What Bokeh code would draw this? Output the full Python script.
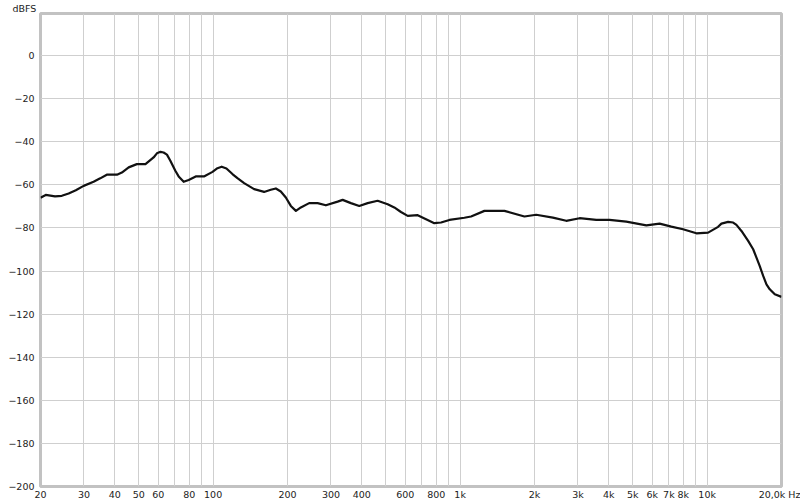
from bokeh.plotting import figure
from bokeh.models import FixedTicker, Range1d
from bokeh.embed import file_html
from bokeh.resources import INLINE

# Frequency response (Hz, dBFS)
freq_hz = [20, 21.0, 22.9, 24.4, 26.0, 27.8, 29.9, 32.8, 34.9, 37.1, 40.8, 42.7, 45.5, 49.1,
           53.2, 57.4, 59.2, 61.2, 63.0, 65.0, 67.1, 70.3, 72.5, 76.0, 79.6, 85.0, 91.8, 99.4,
           104.1, 108.3, 113.2, 119.7, 125.4, 133.5, 146.5, 160.8, 171.1, 179.4, 187.9, 196.9,
           206.3, 216.3, 226.5, 244.8, 264.8, 286.0, 319.1, 334.4, 361.3, 390.4, 422.2, 463.4,
           508.8, 541.2, 576.0, 613.3, 673.2, 727.6, 786.0, 836.8, 904.6, 1040, 1107, 1254,
           1511, 1821, 2031, 2374, 2688, 3044, 3557, 4026, 4705, 5674, 6422, 7161, 7988, 9044,
           10090, 11076, 11424, 12158, 12744, 13140, 13768, 14656, 15358, 15838, 16332, 16862,
           17384, 17929, 18786, 20000]
level_db = [-66.0, -64.7, -65.4, -65.1, -64.0, -62.5, -60.5, -58.6, -57.0, -55.3, -55.3, -54.3,
            -51.9, -50.4, -50.4, -47.3, -45.4, -44.7, -45.0, -46.0, -48.8, -53.5, -56.1, -58.6,
            -57.8, -56.1, -56.1, -54.0, -52.3, -51.6, -52.4, -55.0, -56.9, -59.2, -62.0, -63.3,
            -62.3, -61.7, -63.1, -65.9, -69.8, -72.1, -70.5, -68.5, -68.5, -69.5, -67.8, -67.0,
            -68.5, -69.8, -68.5, -67.4, -69.0, -70.5, -72.6, -74.4, -74.1, -76.0, -77.8, -77.5,
            -76.3, -75.3, -74.7, -72.1, -72.1, -74.7, -73.9, -75.2, -76.7, -75.5, -76.3, -76.3,
            -77.1, -78.8, -78.0, -79.4, -80.6, -82.5, -82.2, -79.5, -78.0, -77.2, -77.5, -78.6,
            -81.4, -86.0, -89.9, -93.8, -97.7, -102.3, -106.2, -108.5, -110.8, -112.0]

x_tick_values = [20, 30, 40, 50, 60, 80, 100, 200, 300, 400, 600, 800, 1000, 2000, 3000,
                 4000, 5000, 6000, 7000, 8000, 10000, 20000]
x_tick_labels = ["20", "30", "40", "50", "60", "80", "100", "200", "300", "400", "600", "800",
                 "1k", "2k", "3k", "4k", "5k", "6k", "7k", "8k", "10k", "20,0k Hz"]
x_grid_values = [20, 30, 40, 50, 60, 70, 80, 90, 100, 200, 300, 400, 500, 600, 700, 800, 900,
                 1000, 2000, 3000, 4000, 5000, 6000, 7000, 8000, 9000, 10000, 20000]
y_tick_values = [-200, -180, -160, -140, -120, -100, -80, -60, -40, -20, 0]
y_unit_label = "dBFS"

font = "DejaVu Sans"
label_size = "9.5px"
label_color = "#222222"

p = figure(width=800, height=502, x_axis_type="log", output_backend="svg",
           toolbar_location=None, x_range=Range1d(20, 20000), y_range=Range1d(-200, 19.5),
           min_border_left=40, min_border_right=19, min_border_top=0, min_border_bottom=16)

p.title.text = y_unit_label
p.title.align = "left"
p.title.offset = -28
p.title.standoff = 0
p.title.text_font = font
p.title.text_font_size = label_size
p.title.text_font_style = "normal"
p.title.text_color = label_color

p.line(freq_hz, level_db, line_color="#111111", line_width=2.2, line_join="round")

for ax in (p.xaxis[0], p.yaxis[0]):
    ax.axis_line_color = None
    ax.major_tick_line_color = None
    ax.minor_tick_line_color = None
    ax.major_tick_out = 0
    ax.major_tick_in = 0
    ax.minor_tick_out = 0
    ax.minor_tick_in = 0
    ax.major_label_text_font = font
    ax.major_label_text_font_size = label_size
    ax.major_label_text_color = label_color

p.xaxis[0].ticker = FixedTicker(ticks=x_tick_values)
p.xaxis[0].major_label_overrides = {v: l for v, l in zip(x_tick_values, x_tick_labels)}
p.xaxis[0].major_label_standoff = 2

p.yaxis[0].ticker = FixedTicker(ticks=y_tick_values)
p.yaxis[0].major_label_standoff = 6

p.xgrid.ticker = FixedTicker(ticks=x_grid_values)
p.ygrid.ticker = FixedTicker(ticks=y_tick_values)
p.xgrid.grid_line_color = "#cfcfcf"
p.ygrid.grid_line_color = "#cfcfcf"
p.xgrid.grid_line_width = 1
p.ygrid.grid_line_width = 1

p.outline_line_color = "#c2c2c2"
p.outline_line_width = 3
p.background_fill_color = "white"
p.border_fill_color = "white"

open("out.html", "w").write(file_html(p, INLINE))
